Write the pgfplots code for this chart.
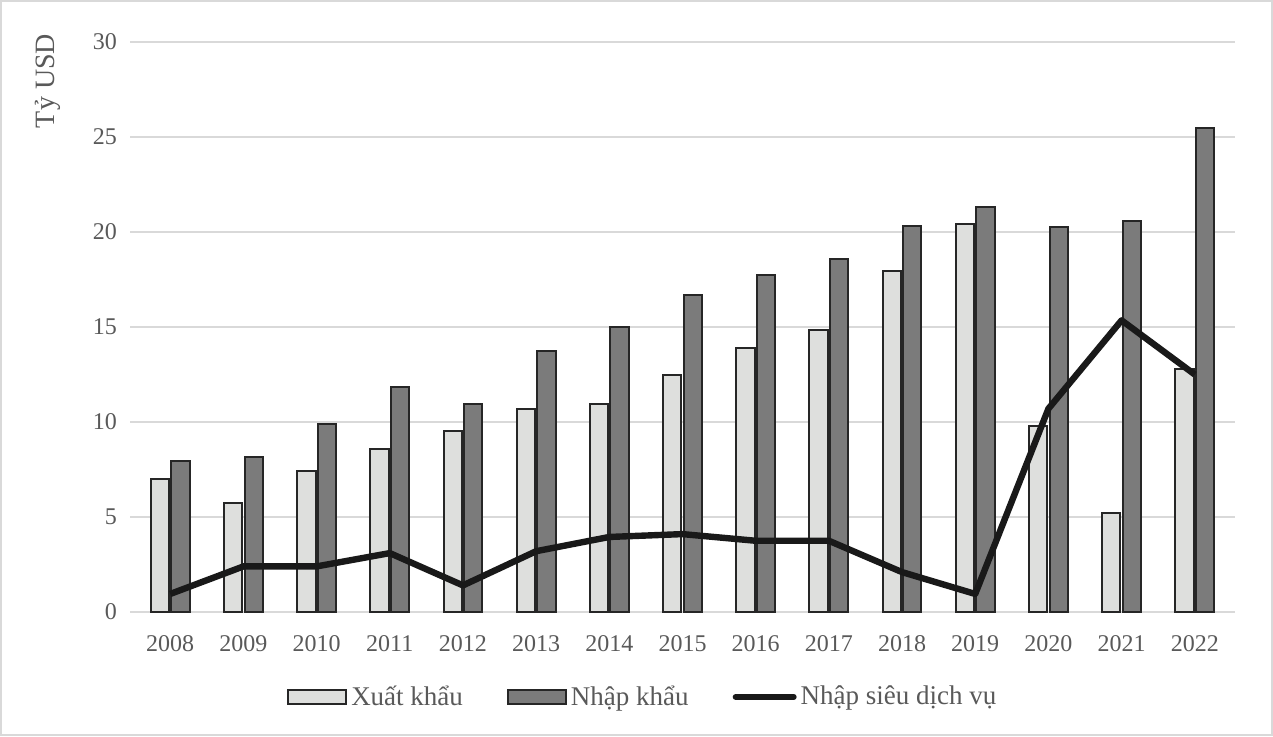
\documentclass[border=0pt]{standalone}
\usepackage{pgfplots}
\pgfplotsset{compat=1.18}
\usepackage{fontspec}
\setmainfont{Liberation Serif}
\definecolor{lightbar}{HTML}{DEDFDD}
\definecolor{darkbar}{HTML}{7B7B7B}
\definecolor{gridc}{HTML}{D9D9D9}
\definecolor{textc}{HTML}{595959}
\begin{document}
\begin{tikzpicture}
\draw[gridc, line width=0.8pt] (0.4pt,0.4pt) rectangle (636.1pt,367.6pt);
\node[rotate=90, font=\fontsize{14}{16}\selectfont, text=textc] at (24pt,327.5pt) {Tỷ USD};
\begin{axis}[
  at={(65pt,62pt)}, anchor=south west,
  scale only axis, width=552.5pt, height=285pt,
  xmin=-0.55, xmax=14.55, ymin=0, ymax=30,
  ytick={0,5,10,15,20,25,30},
  xtick={0,1,2,3,4,5,6,7,8,9,10,11,12,13,14},
  xticklabels={2008,2009,2010,2011,2012,2013,2014,2015,2016,2017,2018,2019,2020,2021,2022},
  axis line style={draw=none},
  major tick length=0pt,
  ymajorgrids, grid style={gridc, line width=0.75pt},
  tick label style={font=\fontsize{12}{14}\selectfont, text=textc},
  /pgf/number format/assume math mode=true,
  yticklabel style={xshift=-3pt},
  xticklabel style={yshift=-8pt},
  legend style={at={(0.465,-0.149)}, anchor=center, draw=none, fill=none,
    legend columns=3, font=\fontsize{13.5}{15}\selectfont, text=textc,
    /tikz/every even column/.append style={column sep=20pt},
    legend cell align=left},
]
\addplot[ybar, bar width=0.25, bar shift=-0.14, fill=lightbar, draw=black!85, line width=1pt,
  legend image code/.code={\draw[fill=lightbar, draw=black!85, line width=1pt] (0pt,-3.5pt) rectangle (29pt,3.5pt);}]
  coordinates {(0,7.0) (1,5.75) (2,7.4) (3,8.6) (4,9.55) (5,10.7) (6,10.95) (7,12.5) (8,13.9) (9,14.85) (10,17.95) (11,20.4) (12,9.8) (13,5.2) (14,12.8)};
\addlegendentry{Xuất khẩu}
\addplot[ybar, bar width=0.25, bar shift=0.14, fill=darkbar, draw=black!85, line width=1pt,
  legend image code/.code={\draw[fill=darkbar, draw=black!85, line width=1pt] (0pt,-3.5pt) rectangle (29pt,3.5pt);}]
  coordinates {(0,7.95) (1,8.15) (2,9.9) (3,11.85) (4,10.95) (5,13.75) (6,15.0) (7,16.7) (8,17.75) (9,18.6) (10,20.3) (11,21.3) (12,20.25) (13,20.6) (14,25.45)};
\addlegendentry{Nhập khẩu}
\addplot[black!90, line width=3.2pt, line join=round, mark=none,
  legend image code/.code={\draw[black!90, line width=3pt, line cap=round] (0pt,0pt) -- (29pt,0pt);}]
  coordinates {(0,0.95) (1,2.4) (2,2.4) (3,3.1) (4,1.4) (5,3.2) (6,3.95) (7,4.1) (8,3.75) (9,3.75) (10,2.1) (11,0.95) (12,10.7) (13,15.35) (14,12.5)};
\addlegendentry{Nhập siêu dịch vụ}
\end{axis}
\end{tikzpicture}
\end{document}
